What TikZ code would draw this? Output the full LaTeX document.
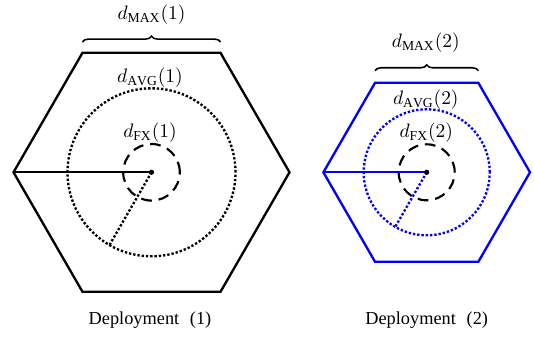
\documentclass[tikz,border=0pt]{standalone}
\usepackage{fontspec}
\setmainfont{Liberation Serif}
\usetikzlibrary{decorations.pathreplacing}
\definecolor{qqqqff}{rgb}{0,0,1}
\tikzset{
    hexline/.style={line width=1.2pt},
    avgline/.style={line width=1.2pt,densely dotted},
    fxline/.style={line width=1.1pt,dash pattern=on 5.5pt off 3.5pt},
    topbrace/.style={decorate,decoration={brace,amplitude=3pt},line width=0.8pt},
    deplabel/.style={font=\fontsize{9.4}{11}\selectfont}
}

\begin{document}
\begin{tikzpicture}[x=0.513pt,y=0.513pt]
    \useasboundingbox (0,0) rectangle (534,339);
    % deployment (1)
    \coordinate (c1) at (151.5,166.7);
    \coordinate (m1) at (13.5,166.7);
    \coordinate (r1) at (109.5,94);
    \draw [hexline] (289.5,166.7) -- (220.5,286.2) -- (82.5,286.2) -- (13.5,166.7) -- (82.5,47.2) -- (220.5,47.2) -- cycle;
    \draw [avgline] (c1) circle (84);
    \draw [fxline] (c1) circle (28.3);
    \draw [hexline] (m1) -- (c1);
    \draw [avgline] (c1) -- (r1);
    \fill [color=black] (c1) circle (2.6);
    \draw [topbrace] (82.5,297) -- (220.5,297);
    \node (max1) at (151.5,324.5) {$d_{\mathrm{MAX}}(1)$};
    \node (avg1) at (150,261.5) {$d_{\mathrm{AVG}}(1)$};
    \node (fx1) at (150,206) {$d_{\mathrm{FX}}(1)$};
    \node [deplabel] (dep1) at (150,18.5) {Deployment\hspace{5.5pt}(1)};
    % deployment (2)
    \coordinate (c2) at (426.7,166.7);
    \coordinate (m2) at (323.4,166.7);
    \coordinate (r2) at (395.2,112.1);
    \draw [hexline,color=qqqqff] (530,166.7) -- (478.35,256.2) -- (375.05,256.2) -- (323.4,166.7) -- (375.05,77.2) -- (478.35,77.2) -- cycle;
    \draw [avgline,color=qqqqff] (c2) circle (63);
    \draw [fxline] (c2) circle (28);
    \draw [hexline,color=qqqqff] (m2) -- (c2);
    \draw [avgline,color=qqqqff] (c2) -- (r2);
    \fill [color=black] (c2) circle (2.6);
    \draw [topbrace] (375.05,268.3) -- (478.35,268.3);
    \node (max2) at (425.8,296.5) {$d_{\mathrm{MAX}}(2)$};
    \node (avg2) at (425.8,239.5) {$d_{\mathrm{AVG}}(2)$};
    \node (fx2) at (426.3,206) {$d_{\mathrm{FX}}(2)$};
    \node [deplabel] (dep2) at (426.7,18.5) {Deployment\hspace{5.5pt}(2)};
\end{tikzpicture}
\end{document}
